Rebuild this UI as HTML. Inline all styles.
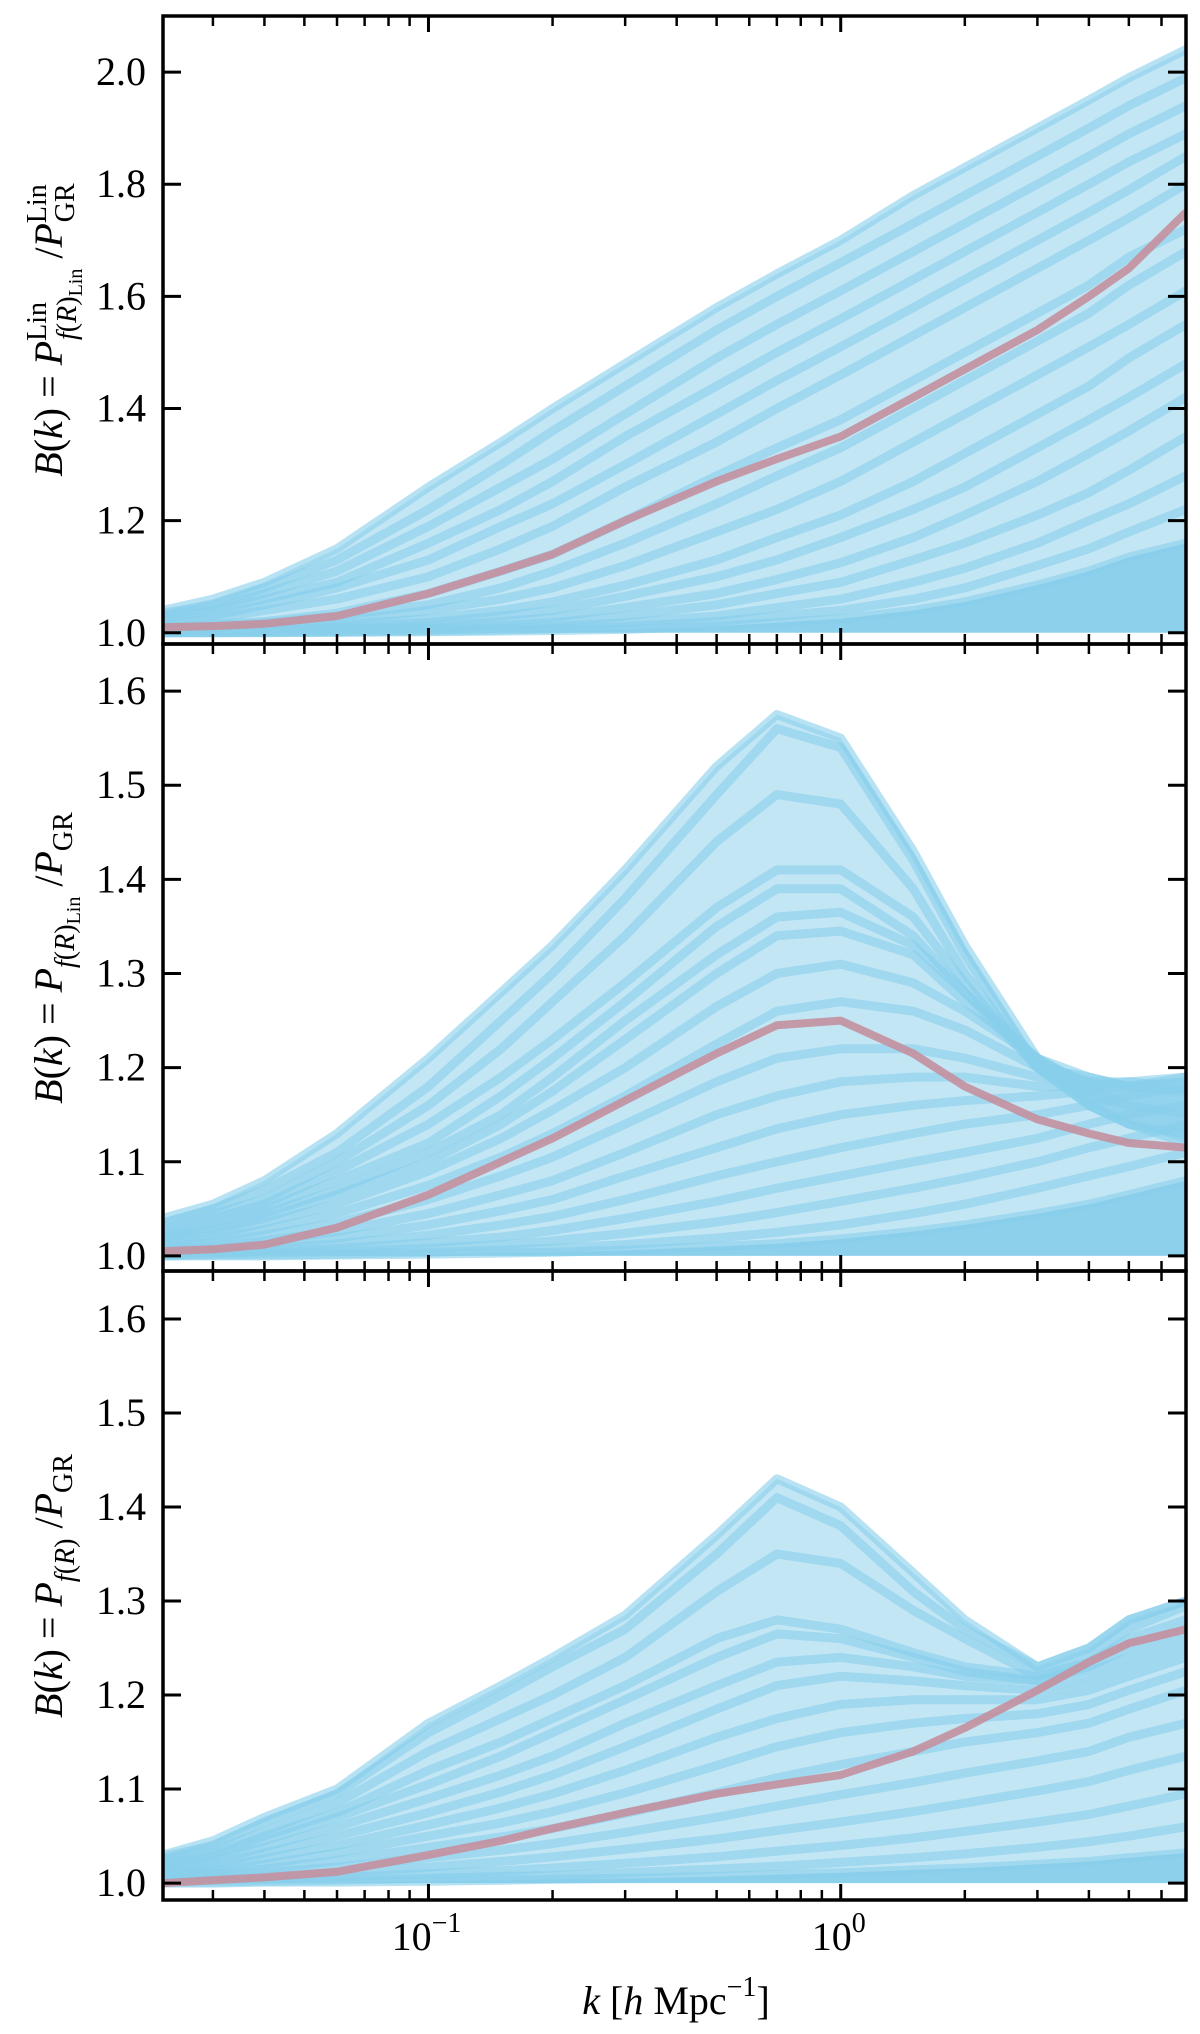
<!DOCTYPE html>
<html><head><meta charset="utf-8"><style>
html,body{margin:0;padding:0;background:#fff;}
svg{display:block;}
text{font-family:"Liberation Serif","DejaVu Serif",serif;fill:#000;}
</style></head>
<body>
<svg id="fig" xmlns="http://www.w3.org/2000/svg" width="1200" height="2034" viewBox="0 0 1200 2034"></svg>
<script>
// shared wavenumber grid (h/Mpc)
const kGrid = [0.0227,0.03,0.04,0.06,0.1,0.15,0.2,0.3,0.5,0.7,1.0,1.5,2,3,4,5,6.88];
const xTickMajor = [0.1, 1];
const xTickMajorLabels = ["10", "10"];
const xTickMajorExp = ["\u22121", "0"];
const xTickMinor = [0.03,0.04,0.05,0.06,0.07,0.08,0.09,0.2,0.3,0.4,0.5,0.6,0.7,0.8,0.9,2,3,4,5,6];

// Panel 1: linear
const p1Ticks = [1.0,1.2,1.4,1.6,1.8,2.0];
const p1TickLabels = ["1.0","1.2","1.4","1.6","1.8","2.0"];
const p1Mean = [1.01,1.012,1.016,1.03,1.07,1.11,1.14,1.20,1.27,1.31,1.35,1.42,1.47,1.54,1.60,1.65,1.75];
const p1Curves = [
[1.04,1.06,1.09,1.15,1.26,1.34,1.40,1.48,1.58,1.64,1.70,1.78,1.83,1.90,1.95,1.99,2.04],
[1.035,1.05,1.08,1.13,1.22,1.30,1.36,1.44,1.54,1.60,1.66,1.73,1.78,1.85,1.90,1.94,1.99],
[1.03,1.045,1.07,1.11,1.19,1.26,1.31,1.39,1.49,1.55,1.61,1.68,1.73,1.80,1.85,1.89,1.94],
[1.025,1.04,1.06,1.09,1.16,1.22,1.27,1.35,1.44,1.50,1.56,1.63,1.68,1.75,1.80,1.84,1.89],
[1.02,1.03,1.05,1.08,1.13,1.19,1.23,1.30,1.39,1.45,1.51,1.58,1.63,1.70,1.75,1.79,1.85],
[1.015,1.025,1.04,1.06,1.10,1.15,1.19,1.26,1.34,1.40,1.46,1.53,1.58,1.65,1.70,1.74,1.80],
[1.01,1.015,1.02,1.035,1.07,1.11,1.14,1.20,1.28,1.33,1.38,1.45,1.50,1.57,1.62,1.67,1.72],
[1.01,1.012,1.018,1.03,1.05,1.08,1.11,1.16,1.23,1.28,1.33,1.40,1.45,1.52,1.57,1.62,1.68],
[1.005,1.01,1.014,1.02,1.04,1.06,1.08,1.12,1.18,1.22,1.27,1.34,1.39,1.46,1.51,1.55,1.61],
[1.003,1.006,1.01,1.015,1.025,1.04,1.055,1.085,1.13,1.17,1.21,1.27,1.32,1.39,1.44,1.49,1.55],
[1.002,1.004,1.006,1.01,1.018,1.03,1.04,1.065,1.10,1.13,1.17,1.22,1.26,1.33,1.38,1.42,1.48],
[1.001,1.002,1.004,1.007,1.012,1.02,1.027,1.045,1.07,1.095,1.125,1.17,1.21,1.27,1.32,1.36,1.42],
[1.001,1.001,1.002,1.004,1.008,1.013,1.018,1.03,1.05,1.07,1.09,1.13,1.16,1.21,1.25,1.29,1.35],
[1.0,1.001,1.001,1.002,1.005,1.008,1.011,1.018,1.03,1.045,1.06,1.09,1.115,1.16,1.20,1.23,1.28],
[1.0,1.0,1.001,1.001,1.003,1.005,1.007,1.011,1.02,1.03,1.04,1.06,1.08,1.12,1.15,1.18,1.22],
[1.0,1.0,1.0,1.001,1.002,1.003,1.004,1.006,1.012,1.018,1.025,1.04,1.055,1.085,1.11,1.135,1.16]
];

// Panel 2: nonlinear, linear screening
const p2Ticks = [1.0,1.1,1.2,1.3,1.4,1.5,1.6];
const p2TickLabels = ["1.0","1.1","1.2","1.3","1.4","1.5","1.6"];
const p2Mean = [1.005,1.007,1.012,1.03,1.065,1.10,1.125,1.165,1.215,1.245,1.25,1.215,1.18,1.145,1.13,1.12,1.115];
const p2Curves = [
[1.04,1.055,1.08,1.13,1.21,1.28,1.33,1.41,1.52,1.575,1.55,1.43,1.33,1.21,1.16,1.14,1.12],
[1.035,1.05,1.07,1.11,1.18,1.25,1.30,1.38,1.49,1.56,1.54,1.42,1.32,1.20,1.16,1.14,1.13],
[1.03,1.045,1.06,1.10,1.16,1.22,1.27,1.34,1.44,1.49,1.48,1.39,1.30,1.20,1.16,1.14,1.13],
[1.025,1.04,1.055,1.09,1.14,1.19,1.23,1.29,1.37,1.41,1.41,1.36,1.29,1.20,1.17,1.15,1.14],
[1.022,1.035,1.05,1.08,1.12,1.17,1.21,1.27,1.35,1.39,1.39,1.34,1.28,1.20,1.17,1.16,1.15],
[1.02,1.03,1.045,1.07,1.11,1.15,1.19,1.25,1.32,1.36,1.365,1.33,1.28,1.21,1.18,1.16,1.15],
[1.018,1.027,1.04,1.065,1.10,1.14,1.175,1.23,1.30,1.34,1.345,1.32,1.27,1.21,1.18,1.17,1.16],
[1.015,1.022,1.035,1.055,1.09,1.125,1.155,1.20,1.265,1.30,1.31,1.29,1.26,1.21,1.19,1.18,1.17],
[1.012,1.018,1.028,1.045,1.075,1.105,1.13,1.17,1.225,1.26,1.27,1.26,1.24,1.20,1.19,1.18,1.175],
[1.01,1.014,1.022,1.035,1.06,1.085,1.105,1.14,1.185,1.21,1.22,1.22,1.21,1.19,1.185,1.185,1.18],
[1.008,1.01,1.016,1.026,1.045,1.065,1.08,1.11,1.15,1.17,1.185,1.19,1.19,1.18,1.18,1.185,1.19],
[1.006,1.008,1.012,1.019,1.033,1.048,1.06,1.085,1.115,1.135,1.15,1.16,1.165,1.17,1.175,1.18,1.19],
[1.004,1.005,1.008,1.013,1.022,1.033,1.042,1.06,1.085,1.10,1.115,1.13,1.14,1.15,1.16,1.17,1.18],
[1.002,1.003,1.005,1.008,1.014,1.02,1.027,1.04,1.058,1.072,1.085,1.10,1.11,1.125,1.14,1.15,1.16],
[1.001,1.002,1.003,1.005,1.008,1.012,1.016,1.024,1.036,1.046,1.058,1.072,1.083,1.10,1.115,1.125,1.14],
[1.0,1.001,1.001,1.002,1.004,1.006,1.008,1.012,1.019,1.025,1.033,1.045,1.055,1.072,1.085,1.095,1.11],
[1.0,1.0,1.0,1.001,1.002,1.003,1.004,1.006,1.01,1.013,1.018,1.026,1.033,1.045,1.055,1.065,1.08]
];

// Panel 3: full f(R)
const p3Ticks = [1.0,1.1,1.2,1.3,1.4,1.5,1.6];
const p3TickLabels = ["1.0","1.1","1.2","1.3","1.4","1.5","1.6"];
const p3Mean = [1.0,1.003,1.006,1.012,1.03,1.045,1.058,1.075,1.095,1.105,1.115,1.14,1.165,1.205,1.235,1.255,1.27];
const p3Curves = [
[1.03,1.045,1.07,1.10,1.17,1.21,1.24,1.285,1.37,1.43,1.40,1.33,1.28,1.23,1.25,1.28,1.30],
[1.028,1.04,1.065,1.095,1.16,1.20,1.23,1.27,1.35,1.41,1.38,1.31,1.27,1.23,1.25,1.28,1.30],
[1.025,1.035,1.055,1.085,1.14,1.175,1.20,1.24,1.31,1.35,1.34,1.29,1.26,1.22,1.24,1.27,1.295],
[1.022,1.03,1.05,1.075,1.12,1.15,1.175,1.21,1.26,1.28,1.27,1.245,1.23,1.22,1.235,1.26,1.28],
[1.02,1.028,1.045,1.07,1.105,1.135,1.16,1.195,1.24,1.265,1.26,1.24,1.225,1.215,1.23,1.25,1.27],
[1.017,1.024,1.038,1.06,1.09,1.115,1.135,1.17,1.21,1.235,1.24,1.23,1.22,1.215,1.225,1.24,1.26],
[1.014,1.02,1.032,1.05,1.075,1.097,1.115,1.145,1.185,1.21,1.22,1.215,1.21,1.205,1.215,1.23,1.25],
[1.012,1.016,1.026,1.04,1.062,1.08,1.095,1.12,1.155,1.175,1.19,1.195,1.195,1.195,1.205,1.22,1.24],
[1.01,1.013,1.02,1.032,1.05,1.064,1.076,1.096,1.125,1.145,1.16,1.17,1.175,1.18,1.19,1.205,1.225],
[1.008,1.01,1.015,1.024,1.038,1.049,1.058,1.074,1.096,1.112,1.126,1.14,1.15,1.16,1.17,1.185,1.205],
[1.006,1.008,1.011,1.017,1.027,1.035,1.042,1.054,1.07,1.082,1.094,1.107,1.117,1.13,1.14,1.155,1.17],
[1.004,1.005,1.007,1.011,1.017,1.023,1.028,1.036,1.047,1.056,1.065,1.076,1.085,1.098,1.108,1.12,1.135],
[1.002,1.003,1.004,1.006,1.01,1.013,1.016,1.021,1.028,1.034,1.04,1.048,1.055,1.065,1.073,1.082,1.095],
[1.001,1.001,1.002,1.003,1.005,1.007,1.008,1.011,1.015,1.018,1.022,1.027,1.031,1.038,1.044,1.05,1.06],
[1.0,1.0,1.001,1.001,1.002,1.003,1.004,1.005,1.007,1.009,1.011,1.014,1.016,1.02,1.023,1.027,1.032]
];

const NS = "http://www.w3.org/2000/svg";
const svg = document.getElementById('fig');
const X0 = 163, X1 = 1186, KMIN = 0.0227, KMAX = 6.88;
function xs(k){ return X0 + (Math.log10(k)-Math.log10(KMIN))/(Math.log10(KMAX)-Math.log10(KMIN))*(X1-X0); }
function mk(tag, attrs, parent){
  const e = document.createElementNS(NS, tag);
  for (const a in attrs) e.setAttribute(a, attrs[a]);
  (parent||svg).appendChild(e);
  return e;
}

const panels = [
  {top:16, bot:644, ymin:0.98, ymax:2.10, ticks:p1Ticks, labels:p1TickLabels, curves:p1Curves, mean:p1Mean, name:'linear'},
  {top:644, bot:1271, ymin:0.984, ymax:1.65, ticks:p2Ticks, labels:p2TickLabels, curves:p2Curves, mean:p2Mean, name:'nonlinear-linscreen'},
  {top:1271, bot:1900, ymin:0.982, ymax:1.651, ticks:p3Ticks, labels:p3TickLabels, curves:p3Curves, mean:p3Mean, name:'full-fr'}
];

panels.forEach((p, pi) => {
  const ys = v => p.bot - (v - p.ymin)/(p.ymax - p.ymin)*(p.bot - p.top);
  const g = mk('g', {});
  
  
  const clipId = 'clip' + pi;
  const cp = mk('clipPath', {id: clipId}, g);
  mk('rect', {x: X0, y: p.top, width: X1 - X0, height: p.bot - p.top}, cp);
  const plot = mk('g', {'clip-path': 'url(#' + clipId + ')'}, g);
  for (let ci = 0; ci < p.curves.length - 1; ci++) {
    const a = p.curves[ci], b = p.curves[ci + 1];
    let d = '';
    kGrid.forEach((k, i) => { d += (i ? ' L' : 'M') + xs(k).toFixed(1) + ',' + ys(a[i]).toFixed(1); });
    for (let i = kGrid.length - 1; i >= 0; i--) d += ' L' + xs(kGrid[i]).toFixed(1) + ',' + ys(b[i]).toFixed(1);
    d += ' Z';
    const f = mk('path', {d: d, fill: '#87CEEB', 'fill-opacity': '0.5'}, plot);
    
    
  }
  const low = p.curves[p.curves.length - 1];
  let d = 'M' + xs(kGrid[0]) + ',' + ys(1.0);
  kGrid.forEach((k, i) => { d += ' L' + xs(k).toFixed(1) + ',' + ys(low[i]).toFixed(1); });
  d += ' L' + xs(kGrid[kGrid.length-1]) + ',' + ys(1.0) + ' Z';
  const band = mk('path', {d: d, fill: '#87CEEB', 'fill-opacity': '0.95'}, plot);
  
  
  p.curves.forEach((c, ci) => {
    let dd = '';
    kGrid.forEach((k, i) => { dd += (i ? ' L' : 'M') + xs(k).toFixed(1) + ',' + ys(c[i]).toFixed(1); });
    const path = mk('path', {d: dd, fill: 'none', stroke: '#87CEEB', 'stroke-width': '9', 'stroke-opacity': '0.6', 'stroke-linejoin': 'round'}, plot);
    
    
  });
  let dm = '';
  kGrid.forEach((k, i) => { dm += (i ? ' L' : 'M') + xs(k).toFixed(1) + ',' + ys(p.mean[i]).toFixed(1); });
  const mean = mk('path', {d: dm, fill: 'none', stroke: '#c4909f', 'stroke-width': '8', 'stroke-opacity': '0.9', 'stroke-linejoin': 'round'}, plot);
  
  

  p.ticks.forEach((t, i) => {
    const y = ys(t);
    mk('line', {x1: X0, x2: X0 + 18, y1: y, y2: y, stroke: '#000', 'stroke-width': '3'}, g);
    mk('line', {x1: X1 - 18, x2: X1, y1: y, y2: y, stroke: '#000', 'stroke-width': '3'}, g);
    const tl = mk('text', {x: 146, y: y + 13, 'font-size': '40', 'text-anchor': 'end'}, g);
    tl.textContent = p.labels[i];
    
    
  });
  xTickMajor.forEach(k => {
    const x = xs(k);
    mk('line', {x1: x, x2: x, y1: p.bot, y2: p.bot - 16, stroke: '#000', 'stroke-width': '3'}, g);
    mk('line', {x1: x, x2: x, y1: p.top, y2: p.top + 16, stroke: '#000', 'stroke-width': '3'}, g);
  });
  xTickMinor.forEach(k => {
    const x = xs(k);
    mk('line', {x1: x, x2: x, y1: p.bot, y2: p.bot - 10, stroke: '#000', 'stroke-width': '2.5'}, g);
    mk('line', {x1: x, x2: x, y1: p.top, y2: p.top + 10, stroke: '#000', 'stroke-width': '2.5'}, g);
  });
  const frame = mk('rect', {x: X0, y: p.top, width: X1 - X0, height: p.bot - p.top, fill: 'none', stroke: '#000', 'stroke-width': '3.5'}, g);
  
  
});

xTickMajor.forEach((k, i) => {
  const t = mk('text', {x: xs(k) - 2, y: 1950, 'font-size': '40', 'text-anchor': 'middle'});
  
  
  const b = mk('tspan', {}, t); b.textContent = xTickMajorLabels[i];
  const e = mk('tspan', {dy: '-18', 'font-size': '28'}, t); e.textContent = xTickMajorExp[i];
});
</script>
<svg style="position:absolute;left:0;top:0" width="1200" height="2034">
  <text x="676" y="2014" font-size="40" text-anchor="middle" font-family="Liberation Serif, serif"><tspan font-style="italic">k</tspan> [<tspan font-style="italic">h</tspan> Mpc<tspan dy="-18" font-size="28">−1</tspan><tspan dy="18">]</tspan></text>
  <text transform="translate(62,330) rotate(-90)" font-size="40" text-anchor="middle" font-family="Liberation Serif, serif"><tspan font-style="italic">B</tspan>(<tspan font-style="italic">k</tspan>) = <tspan font-style="italic">P</tspan><tspan dy="-16" font-size="28">Lin</tspan><tspan dx="-38" dy="30" font-size="28"><tspan font-style="italic">f</tspan>(<tspan font-style="italic">R</tspan>)</tspan><tspan dy="6" font-size="20">Lin</tspan><tspan dy="-20" font-size="40"> /</tspan><tspan font-style="italic">P</tspan><tspan dy="-16" font-size="28">Lin</tspan><tspan dx="-38" dy="28" font-size="28">GR</tspan></text>
  <text transform="translate(62,958) rotate(-90)" font-size="40" text-anchor="middle" font-family="Liberation Serif, serif"><tspan font-style="italic">B</tspan>(<tspan font-style="italic">k</tspan>) = <tspan font-style="italic">P</tspan><tspan dy="12" font-size="28"><tspan font-style="italic">f</tspan>(<tspan font-style="italic">R</tspan>)</tspan><tspan dy="6" font-size="20">Lin</tspan><tspan dy="-18" font-size="40"> /</tspan><tspan font-style="italic">P</tspan><tspan dy="10" font-size="28">GR</tspan></text>
  <text transform="translate(62,1586) rotate(-90)" font-size="40" text-anchor="middle" font-family="Liberation Serif, serif"><tspan font-style="italic">B</tspan>(<tspan font-style="italic">k</tspan>) = <tspan font-style="italic">P</tspan><tspan dy="12" font-size="28"><tspan font-style="italic">f</tspan>(<tspan font-style="italic">R</tspan>)</tspan><tspan dy="-12" font-size="40"> /</tspan><tspan font-style="italic">P</tspan><tspan dy="10" font-size="28">GR</tspan></text>
</svg>
</body></html>
